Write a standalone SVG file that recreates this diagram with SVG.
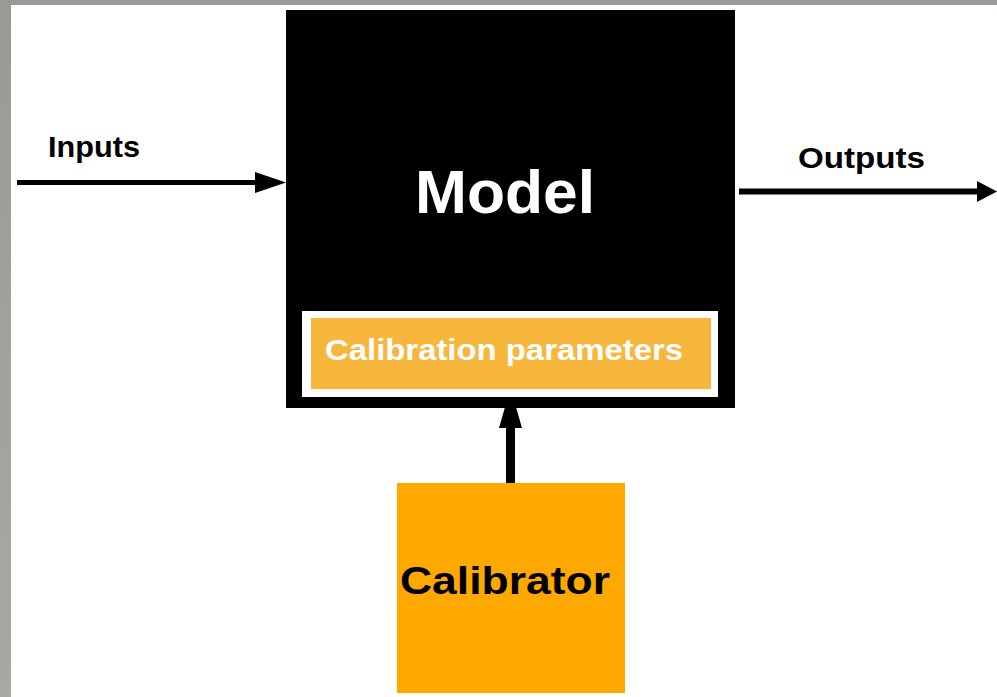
<svg xmlns="http://www.w3.org/2000/svg" width="997" height="697" viewBox="0 0 997 697">
<style>
.lbl{font-family:"Liberation Sans",Arial,sans-serif;font-weight:bold}
.conn{stroke:#000;fill:none}
</style>
<defs>
<linearGradient id="bg" x1="0" y1="0" x2="0" y2="1">
<stop offset="0" stop-color="#9a9a92"/><stop offset="1" stop-color="#a8a9a2"/>
</linearGradient>
</defs>
<rect x="0" y="0" width="997" height="697" fill="url(#bg)"/>
<rect x="11" y="5" width="986" height="692" fill="#ffffff"/>
<g id="connectors">
<line class="conn" x1="17" y1="182.5" x2="258" y2="182.5" stroke-width="5"/>
<polygon points="255,172 286,182.5 255,193" fill="#000"/>
<line class="conn" x1="739" y1="191.5" x2="980" y2="191.5" stroke-width="6"/>
<polygon points="977,181 997,191.5 977,202" fill="#000"/>
<line class="conn" x1="510.5" y1="483" x2="510.5" y2="420" stroke-width="9"/>
<polygon points="510.5,388 522,428 499,428" fill="#000"/>
</g>
<g id="model">
<rect x="286" y="10" width="449" height="398" fill="#000"/>
<text class="lbl" x="415" y="213" font-size="62" fill="#fff" textLength="180" lengthAdjust="spacingAndGlyphs">Model</text>
</g>
<g id="calibration-parameters">
<rect x="302" y="311" width="416" height="86" fill="#fff"/>
<rect x="311" y="318" width="400" height="71" fill="#f7b63c"/>
<text class="lbl" x="325" y="360" font-size="30" fill="#fff" textLength="358" lengthAdjust="spacingAndGlyphs">Calibration parameters</text>
</g>
<g id="calibrator">
<rect x="397" y="483" width="228" height="210" fill="#ffa800"/>
<text class="lbl" x="400" y="594" font-size="38" fill="#000" textLength="210" lengthAdjust="spacingAndGlyphs">Calibrator</text>
</g>
<g id="labels">
<text class="lbl" x="48" y="157" font-size="30" fill="#000" textLength="92" lengthAdjust="spacingAndGlyphs">Inputs</text>
<text class="lbl" x="798" y="168" font-size="29" fill="#000" textLength="127" lengthAdjust="spacingAndGlyphs">Outputs</text>
</g>
</svg>
